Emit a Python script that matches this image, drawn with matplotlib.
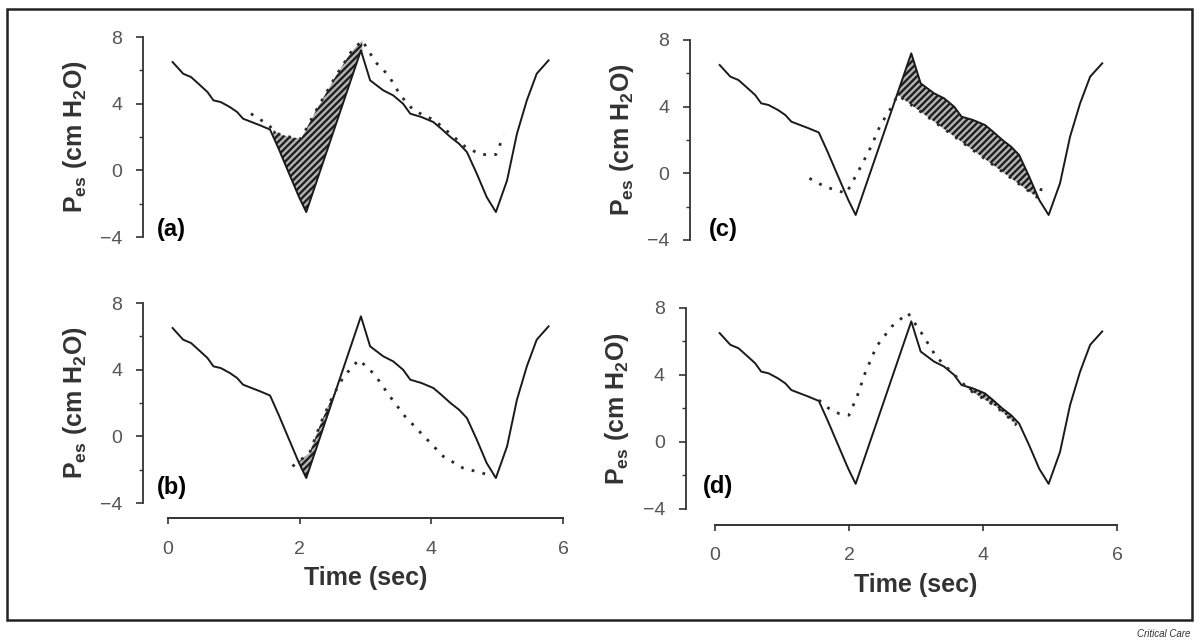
import numpy as np
import matplotlib
matplotlib.use("Agg")
import matplotlib.pyplot as plt
from matplotlib.patches import Rectangle

plt.rcParams['font.family'] = ['Liberation Sans', 'DejaVu Sans']
plt.rcParams['mathtext.fontset'] = 'custom'
plt.rcParams['mathtext.bf'] = 'Liberation Sans:bold'
plt.rcParams['mathtext.rm'] = 'Liberation Sans:bold'
plt.rcParams['mathtext.default'] = 'bf'
plt.rcParams['hatch.linewidth'] = 1.7

# measured oesophageal pressure trace (same in all panels)
time = [0.07, 0.23, 0.35, 0.49, 0.6, 0.69, 0.8, 0.94, 1.05, 1.14, 1.27, 1.40, 1.55, 1.68,
        1.84, 1.99, 2.10, 2.93, 3.07, 3.27, 3.42, 3.57, 3.68, 3.85, 4.03, 4.15, 4.29, 4.42,
        4.54, 4.69, 4.84, 4.98, 5.15, 5.3, 5.45, 5.6, 5.78]
pes = [6.5, 5.8, 5.6, 5.1, 4.7, 4.2, 4.1, 3.8, 3.5, 3.1, 2.9, 2.7, 2.45, 1.3,
       -0.2, -1.6, -2.5, 7.2, 5.4, 4.8, 4.5, 4.0, 3.4, 3.2, 2.9, 2.5, 2.0, 1.6,
       1.1, -0.2, -1.6, -2.5, -0.6, 2.2, 4.2, 5.8, 6.6]

# dotted traces
a_dot_t = [1.26, 1.50, 1.67, 1.85, 2.02, 2.25, 2.54, 2.78, 2.95, 3.15, 3.35, 3.53, 3.73, 4.05, 4.52, 4.75, 4.98, 5.10]
a_dot_p = [3.4, 2.8, 2.2, 2.0, 1.9, 3.6, 5.6, 7.1, 7.8, 6.5, 5.7, 4.5, 3.6, 3.0, 1.4, 0.95, 0.95, 2.1]

b_dot_t = [1.89, 2.15, 2.32, 2.50, 2.67, 2.90, 3.14, 3.37, 3.60, 3.89, 4.18, 4.48, 4.77, 4.94]
b_dot_p = [-1.8, -1.0, 0.8, 2.4, 3.6, 4.6, 3.7, 2.4, 1.2, 0.0, -1.2, -1.9, -2.2, -2.4]

c_dot_t = [1.41, 1.64, 1.96, 2.15, 2.33, 2.47, 2.61, 2.73, 4.83, 4.9]
c_dot_p = [-0.3, -0.8, -1.2, 0.2, 1.6, 2.9, 3.8, 4.7, -1.5, -0.5]

d_dot_t = [1.55, 1.7, 1.85, 2.0, 2.12, 2.24, 2.41, 2.64, 2.88, 3.10, 3.30, 3.55, 3.8, 4.0, 4.2, 4.4, 4.5]
d_dot_p = [2.5, 2.0, 1.7, 1.6, 2.7, 4.1, 5.7, 6.9, 7.7, 6.4, 5.1, 4.1, 3.1, 2.6, 2.1, 1.4, 1.0]

panels = ['(a)', '(b)', '(c)', '(d)']
yticks = [-4, 0, 4, 8]
xticks = [0, 2, 4, 6]

fig = plt.figure(figsize=(12, 6.42), dpi=100)

# axes boxes [left, bottom, width, height], spine offsets, label spot
layout = {
    '(a)': ([0.140, 0.6308, 0.3292, 0.3115], 18, None, (-0.17, -3.55)),
    '(b)': ([0.140, 0.2165, 0.3292, 0.3115], 18, 11, (-0.17, -3.05)),
    '(c)': ([0.5958, 0.6262, 0.335, 0.3115], 18, None, (-0.09, -3.4)),
    '(d)': ([0.5958, 0.2072, 0.335, 0.3131], 21, 11.5, (-0.18, -2.65)),
}
dots = {'(a)': (a_dot_t, a_dot_p), '(b)': (b_dot_t, b_dot_p),
        '(c)': (c_dot_t, c_dot_p), '(d)': (d_dot_t, d_dot_p)}
# fill range and which curve is on top
fills = {'(a)': (1.6, 2.95, 'dot'), '(b)': (1.9, 2.6, 'dot'),
         '(c)': (2.6, 4.85, 'solid'), '(d)': (3.6, 4.5, 'solid')}

for name in panels:
    box, yoff, xoff, lab = layout[name]
    ax = fig.add_axes(box)
    ax.patch.set_alpha(0)
    ax.set_xlim(0, 6)
    ax.set_ylim(-4, 8)

    dt, dp = dots[name]
    lo, hi, top = fills[name]
    tf = np.linspace(lo, hi, 400)
    s = np.interp(tf, time, pes)
    d = np.interp(tf, dt, dp)
    cond = d > s if top == 'dot' else s > d
    ax.fill_between(tf, s, d, where=cond, interpolate=True, facecolor='#b4b4b4',
                    edgecolor='#1e1e1e', hatch='/////', linewidth=0)

    ax.plot(time, pes, color='#1a1a1a', lw=1.4)
    ax.plot(dt, dp, color='#2a2a2a', lw=2.0, linestyle=(0, (1, 3)))

    for sp in ['top', 'right']:
        ax.spines[sp].set_visible(False)
    ax.spines['left'].set_position(('outward', yoff))
    ax.spines['left'].set_color('#333333')
    ax.spines['left'].set_linewidth(1.3)
    ax.set_yticks(yticks)
    ax.set_yticks([-2, 2, 6], minor=True)
    ax.tick_params(axis='y', which='major', length=5, width=1.2, pad=10,
                   labelsize=14, labelcolor='#555555', color='#333333')
    ax.tick_params(axis='y', which='minor', length=3, width=1.0, color='#333333')
    ax.set_ylabel('P$_{es}$ (cm H$_2$O)', fontsize=18, fontweight='bold',
                  color='#333333', labelpad=8)

    if xoff is None:
        ax.spines['bottom'].set_visible(False)
        ax.set_xticks([])
    else:
        ax.spines['bottom'].set_position(('outward', xoff))
        ax.spines['bottom'].set_color('#333333')
        ax.spines['bottom'].set_linewidth(1.4)
        ax.set_xticks(xticks)
        ax.tick_params(axis='x', length=4, width=1.2, pad=12, labelsize=14,
                       labelcolor='#555555', color='#333333')
        ax.set_xlabel('Time (sec)', fontsize=18, fontweight='bold',
                      color='#333333', labelpad=6)

    ax.text(lab[0], lab[1], name, fontsize=17, fontweight='bold',
            ha='left', va='center', color='black')

fig.add_artist(Rectangle((7 / 1200, 1 - 620 / 642), 1185 / 1200, 611 / 642,
                         transform=fig.transFigure, fill=False,
                         edgecolor='#222222', linewidth=1.8))
fig.text(1190 / 1200, 1 - 634 / 642, 'Critical Care', fontsize=7, style='italic',
         ha='right', va='center', color='#333333')

fig.savefig('out.png', dpi=100)
